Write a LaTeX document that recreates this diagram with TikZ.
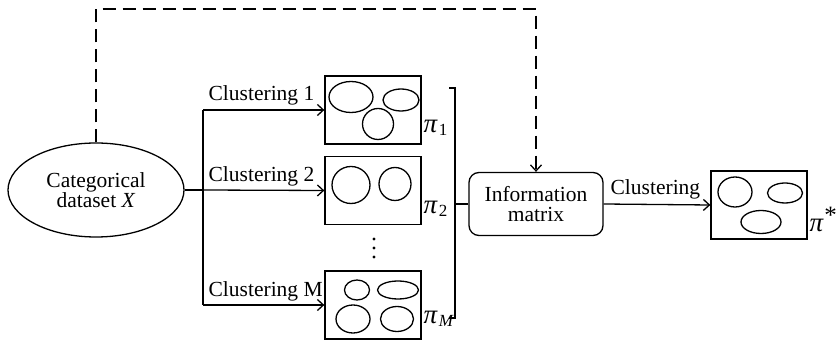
\documentclass[tikz,border=0pt]{standalone}
\usepackage{fontspec}
\setmainfont{Liberation Serif}
\usetikzlibrary{shapes.geometric,arrows.meta,positioning}

\newcommand{\pisym}{\textit{\fontsize{27}{27}\selectfont π}}
\newcommand{\pisub}[1]{\pisym\kern1pt\raisebox{-0.3ex}{\fontsize{17}{17}\selectfont #1}}

\begin{document}
\begin{tikzpicture}[x=1pt, y=-1pt, line width=1.3pt,
    >={Straight Barb[length=6pt,width=11pt]},
    font=\fontsize{21.5}{20}\selectfont,
    part/.style={draw, rectangle, minimum width=96pt, minimum height=68pt, inner sep=0pt},
    lab/.style={inner sep=0pt, anchor=base west}]
   \useasboundingbox (0,0) rectangle (838,344);
   \node[draw, ellipse, minimum width=176pt, minimum height=94pt, inner sep=0pt, align=center]
      (data) at (96,190) {Categorical\\dataset \textit{X}};
   \begin{scope}[every node/.style={part}]
    \node (p1) at (373,110) {};
    \node (p2) at (373,190.5) {};
    \node (pM) at (373,305) {};
    \node (pstar) at (759,205) {};
   \end{scope}
   \node[draw, rounded corners=10pt, minimum width=134pt, minimum height=63pt, inner sep=0pt, align=center]
      (info) at (536,204) {Information\\matrix};

   % vertical ellipsis between the partitions
   \coordinate (dots) at (374,248);
   \foreach \dy in {-9,0,9}
    \fill ([yshift=-\dy pt]dots) circle (1.7pt);

   % clusters inside each partition
   \foreach \dx/\dy/\rx/\ry in {-22/-13/22/15.5, 28/-10/18/11, 5/14/15.5/15.5}
    \draw ([shift={(\dx,\dy)}]p1.center) ellipse [x radius=\rx pt, y radius=\ry pt];
   \foreach \dx/\dy/\rx/\ry in {-22/-5.5/19/18.5, 22/-6.5/16/16.5}
    \draw ([shift={(\dx,\dy)}]p2.center) ellipse [x radius=\rx pt, y radius=\ry pt];
   \foreach \dx/\dy/\rx/\ry in {-16/-15/12.5/10, 25/-15/20.5/9, -20/14/17/14, 24/14/16.5/12.5}
    \draw ([shift={(\dx,\dy)}]pM.center) ellipse [x radius=\rx pt, y radius=\ry pt];
   \foreach \dx/\dy/\rx/\ry in {-24/-13/17/15, 26/-12/17.5/10, 2/17/20/11.5}
    \draw ([shift={(\dx,\dy)}]pstar.center) ellipse [x radius=\rx pt, y radius=\ry pt];

   % labels
   \node[lab] (l1) at (208,101) {Clustering 1};
   \node[lab] (l2) at (208,182) {Clustering 2};
   \node[lab] (lM) at (208,297) {Clustering M};
   \node[lab] (lc) at (610,195) {Clustering};
   \node[lab] (pi1) at (423,133) {\pisub{1}};
   \node[lab] (pi2) at (423,214) {\pisub{2}};
   \node[lab] (piM) at (423,324) {\pisub{\textit{M}}};
   \node[lab] (pis) at (809,232) {\pisym\kern0.5pt\raisebox{0.9ex}{\fontsize{25}{25}\selectfont *}};

   % fork to the base clusterings
   \coordinate (fork) at (203,190);
   \draw (data.east) -- (fork);
   \draw (p1.west -| fork) -- (pM.west -| fork);
   \draw[->] (p1.west -| fork) -- (p1.west);
   \draw[->] (fork) -- (p2.west);
   \draw[->] (pM.west -| fork) -- (pM.west);

   % bracket collecting the partitions
   \coordinate (btop) at (455,88);
   \coordinate (bbot) at (455,318);
   \draw ([xshift=-6pt]btop) -- (btop) -- (bbot) -- ([xshift=-6pt]bbot);
   \draw (info.west -| btop) -- (info.west);
   \draw[->] (info.east) -- (pstar.west);

   % dataset fed directly to the matrix
   \coordinate (loop) at (96,9);
   \draw[->, dash pattern=on 13pt off 7pt] (data.north) -- (loop) -| (info.north);
\end{tikzpicture}
\end{document}
